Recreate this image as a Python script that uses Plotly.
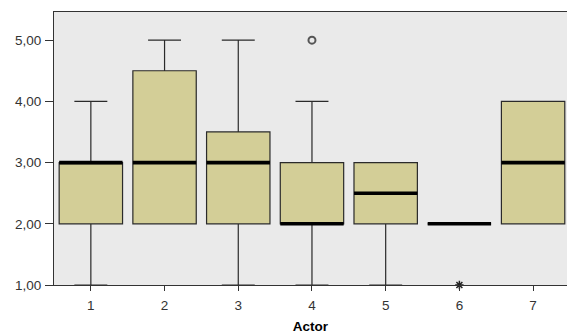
import plotly.graph_objects as go

actors = [1, 2, 3, 4, 5, 6, 7]
q1 = [2, 2, 2, 2, 2, 2, 2]
median = [3, 3, 3, 2, 2.5, 2, 3]
q3 = [3, 4.5, 3.5, 3, 3, 2, 4]
lower = [1, 2, 1, 1, 1, 2, 2]
upper = [4, 5, 5, 4, 3, 2, 4]
outlier_x = [4]
outlier_y = [5]
extreme_x = [6]
extreme_y = [1]
y_ticks = [1, 2, 3, 4, 5]

BOX_W = 0.86
FILL = "#D3CE97"
EDGE = "#2a2a2a"
FONT = "Liberation Sans, Arial"

fig = go.Figure()
fig.add_trace(go.Box(
    x=actors, q1=q1, median=median, q3=q3,
    lowerfence=lower, upperfence=upper,
    width=BOX_W, whiskerwidth=0.52,
    fillcolor=FILL, line=dict(color=EDGE, width=1.2),
    boxpoints=False, showlegend=False, hoverinfo="skip",
))

# thick median lines
mx, my = [], []
for a, m in zip(actors, median):
    mx += [a - BOX_W / 2, a + BOX_W / 2, None]
    my += [m, m, None]
fig.add_trace(go.Scatter(x=mx, y=my, mode="lines",
                         line=dict(color="black", width=3.6),
                         showlegend=False, hoverinfo="skip"))

fig.add_trace(go.Scatter(x=outlier_x, y=outlier_y, mode="markers",
                         marker=dict(symbol="circle-open", size=7,
                                     color="#555", line=dict(width=2)),
                         showlegend=False, cliponaxis=False))
fig.add_trace(go.Scatter(x=extreme_x, y=extreme_y, mode="markers",
                         marker=dict(symbol="asterisk-open", size=7,
                                     color="#222", line=dict(width=1.5)),
                         showlegend=False, cliponaxis=False))

axis_common = dict(showgrid=False, zeroline=False, showline=True,
                   linecolor="#333", linewidth=1, mirror=True,
                   ticks="outside", tickcolor="#333", automargin=False,
                   tickfont=dict(family=FONT, size=13.5, color="#333"))

fig.update_layout(
    width=567, height=335,
    margin=dict(l=54, r=0, t=12, b=50, autoexpand=False),
    paper_bgcolor="white", plot_bgcolor="#EAEAEA",
    separators=",.",
    xaxis=dict(range=[0.5, 7.46], tickvals=actors, ticklen=5, ticklabelstandoff=3,
               title=dict(text="<b>Actor</b>", standoff=9,
                          font=dict(family=FONT, size=13.5, color="black")),
               **axis_common),
    yaxis=dict(range=[1, 5.46], tickvals=y_ticks, tickformat=".2f", ticklen=8,
               ticklabelstandoff=1,
               **axis_common),
)

fig.write_html("out.html", config={"displayModeBar": False},
               post_script="document.body.style.margin='0';document.body.style.overflow='hidden';")
